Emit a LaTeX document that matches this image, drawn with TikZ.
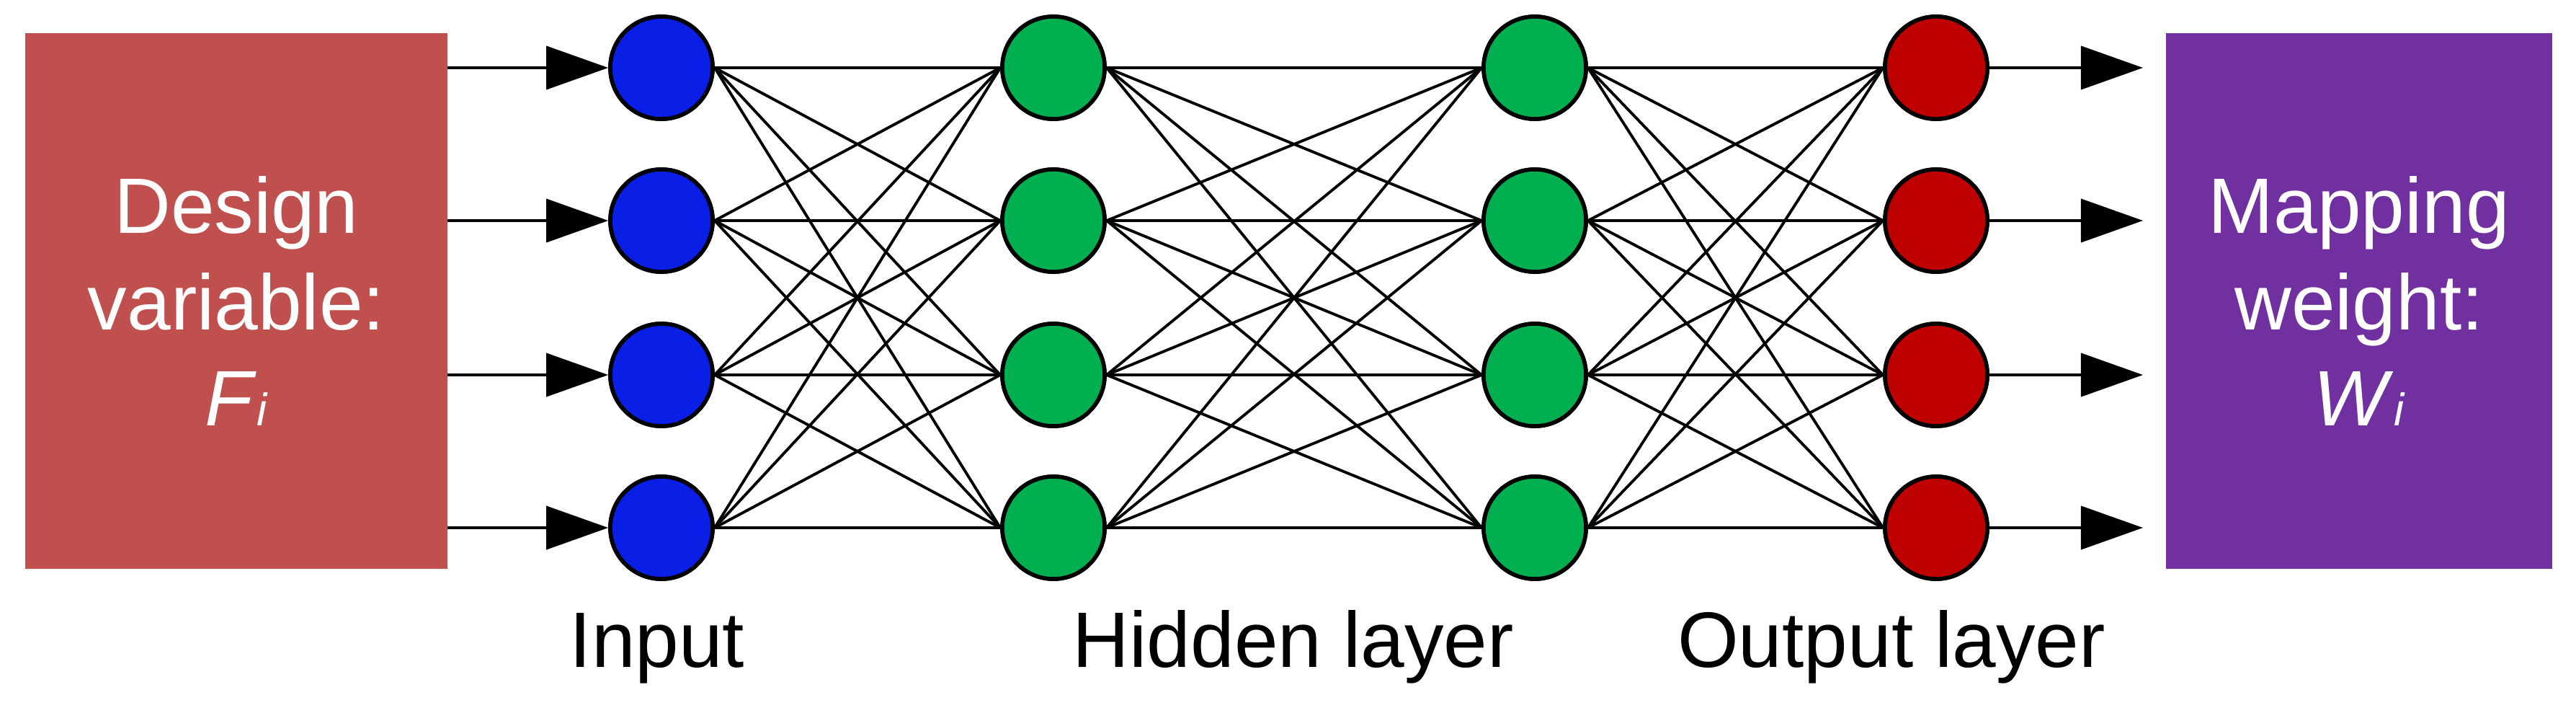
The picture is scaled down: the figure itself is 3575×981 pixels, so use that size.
\documentclass[tikz,border=0pt]{standalone}
\usepackage{fontspec}
\setmainfont{Liberation Sans}
\usetikzlibrary{arrows.meta}
\definecolor{boxred}{HTML}{C0504D}
\definecolor{boxpur}{HTML}{7030A0}
\definecolor{nblue}{HTML}{0A1FE6}
\definecolor{ngreen}{HTML}{00B050}
\definecolor{nred}{HTML}{C00000}
\begin{document}
\begin{tikzpicture}[x=0.01cm,y=-0.01cm,
  neuron/.style={circle,draw=black,line width=1.6pt,minimum size=1.42cm,inner sep=0pt},
  conn/.style={line width=1.1pt},
  arr/.style={line width=1.1pt,-{Triangle[length=0.86cm,width=0.6cm]}},
  bigbox/.style={draw=none,minimum width=5.86cm,minimum height=7.43cm,inner sep=0pt,text=white,align=center,font=\fontsize{31}{38}\selectfont},
  lbl/.style={font=\fontsize{31}{38}\selectfont,anchor=base}]
\useasboundingbox (0,0) rectangle (3575,981);
\node[bigbox,fill=boxred] (L) at (328,417.5) {Design\\variable:\\\textit{F}{\fontsize{18}{20}\selectfont\textit{i}}};
\node[bigbox,fill=boxpur,minimum width=5.36cm] (R) at (3274,417.5) {Mapping\\weight:\\\textit{W}{\fontsize{18}{20}\selectfont\textit{i}}};
\foreach \i/\y in {1/94,2/306,3/520,4/732}{
  \node[neuron,fill=nblue] (a\i) at (918,\y) {};
  \node[neuron,fill=ngreen] (b\i) at (1462,\y) {};
  \node[neuron,fill=ngreen] (c\i) at (2130,\y) {};
  \node[neuron,fill=nred] (d\i) at (2687,\y) {};
  \coordinate (s\i) at (621,\y);
  \coordinate (t\i) at (2974,\y);
}
\foreach \i in {1,...,4}{
  \draw[arr] (s\i) -- (a\i.west);
  \draw[arr] (d\i.center) -- (t\i);
  \foreach \j in {1,...,4}{
    \draw[conn] (a\i.east) -- (b\j.west);
    \draw[conn] (b\i.east) -- (c\j.west);
    \draw[conn] (c\i.east) -- (d\j.west);
  }
}
\foreach \i in {1,...,4}{
  \node[neuron,fill=nblue] at (a\i) {};
  \node[neuron,fill=ngreen] at (b\i) {};
  \node[neuron,fill=ngreen] at (c\i) {};
  \node[neuron,fill=nred] at (d\i) {};
}
\node[lbl] (l1) at (912,925) {Input};
\node[lbl] (l2) at (1795,925) {Hidden layer};
\node[lbl] (l3) at (2625,925) {Output layer};
\end{tikzpicture}
\end{document}
